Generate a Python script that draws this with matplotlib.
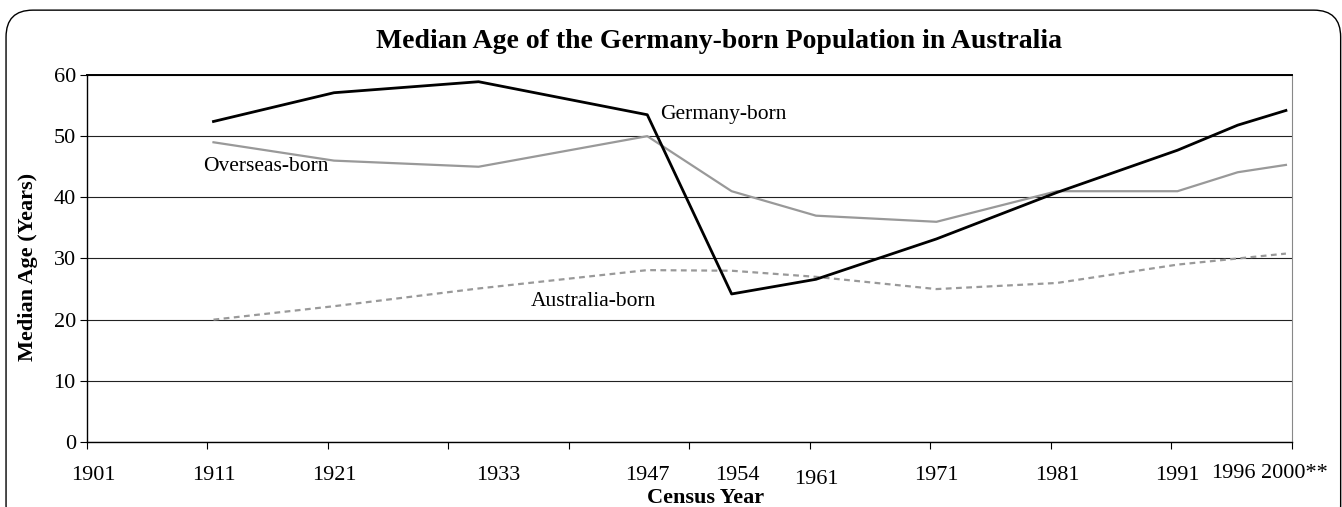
import numpy as np
import matplotlib
matplotlib.use('Agg')
import matplotlib.pyplot as plt
from matplotlib.patches import FancyBboxPatch
from matplotlib import transforms

# 人口普查年份及中位年龄数据
years = [1911, 1921, 1933, 1947, 1954, 1961, 1971, 1981, 1991, 1996, 2000]
germany_born = [52.4, 57.1, 58.9, 53.5, 24.2, 26.6, 33.2, 40.8, 47.7, 51.8, 54.2]
overseas_born = [49.0, 46.0, 45.0, 50.0, 41.0, 37.0, 36.0, 41.0, 41.0, 44.1, 45.3]
australia_born = [20.0, 22.2, 25.1, 28.1, 28.0, 27.0, 25.0, 26.0, 29.0, 30.0, 30.8]

tick_years = [1901, 1911, 1921, 1933, 1947, 1954, 1961, 1971, 1981, 1991, 1996, 2000]
tick_labels = ['1901', '1911', '1921', '1933', '1947', '1954', '1961', '1971',
               '1981', '1991', '1996', '2000**']

plt.rcParams['font.family'] = ['Liberation Serif', 'DejaVu Serif']

fig = plt.figure(figsize=(13.42, 5.07), dpi=100)
ax = fig.add_axes([0.0648, 0.1282, 0.8979, 0.7239])

# 外框(圆角)
frame = FancyBboxPatch((0.0045, -0.05), 0.9945, 1.03, boxstyle='round,pad=0,rounding_size=0.02',
                       transform=fig.transFigure, facecolor='none', edgecolor='black',
                       linewidth=1.0, mutation_aspect=2.65, clip_on=False)
fig.patches.append(frame)

ax.plot(years, overseas_born, color='#999999', linewidth=1.6, zorder=3)
ax.plot(years, australia_born, color='#999999', linewidth=1.6, dashes=(2.6, 2.0), zorder=3)
ax.plot(years, germany_born, color='black', linewidth=2.0, zorder=4)

ax.set_xlim(1900.5, 2000.4)
ax.set_ylim(0, 60)
ax.set_yticks(np.arange(0, 61, 10))
ax.tick_params(axis='y', direction='out', length=5, width=0.8, labelsize=16, pad=3)
ax.yaxis.grid(True, color='#222222', linewidth=0.8)
ax.set_axisbelow(True)

ax.set_xticks(np.arange(1900.5, 2001, 10))
ax.set_xticklabels([])
ax.tick_params(axis='x', direction='out', length=5, width=0.8)

# 年份标签(手动微调位置)
label_dx = {'1933': 20, '1954': 6, '1996': -4}
label_dy = {'1961': -4, '1996': 2, '2000**': 2}
for yr, lab in zip(tick_years, tick_labels):
    off = transforms.offset_copy(ax.get_xaxis_transform(), fig=fig,
                                 x=label_dx.get(lab, 0), y=label_dy.get(lab, 0), units='dots')
    ha = 'left' if lab == '2000**' else 'center'
    xx = yr - 2.1 if lab == '2000**' else yr
    ax.text(xx, -0.09, lab, transform=off, ha=ha, va='center', fontsize=16)

for side in ['left', 'bottom', 'top']:
    ax.spines[side].set_color('black')
    ax.spines[side].set_linewidth(1.0)
ax.spines['top'].set_linewidth(1.4)
ax.spines['right'].set_color('#888888')
ax.spines['right'].set_linewidth(0.8)

ax.text(1948.1, 53.5, 'Germany-born', fontsize=15.5, va='center', ha='left')
ax.text(1910.1, 45.1, 'Overseas-born', fontsize=15.5, va='center', ha='left')
ax.text(1937.3, 22.9, 'Australia-born', fontsize=15.5, va='center', ha='left')

fig.text(0.536, 0.919, 'Median Age of the Germany-born Population in Australia',
         ha='center', va='center', fontsize=20, fontweight='bold')
fig.text(0.526, 0.018, 'Census Year', ha='center', va='center', fontsize=16, fontweight='bold')
fig.text(0.021, 0.473, 'Median Age (Years)', ha='center', va='center', fontsize=16,
         fontweight='bold', rotation=90)

fig.savefig('out.png', dpi=100)
